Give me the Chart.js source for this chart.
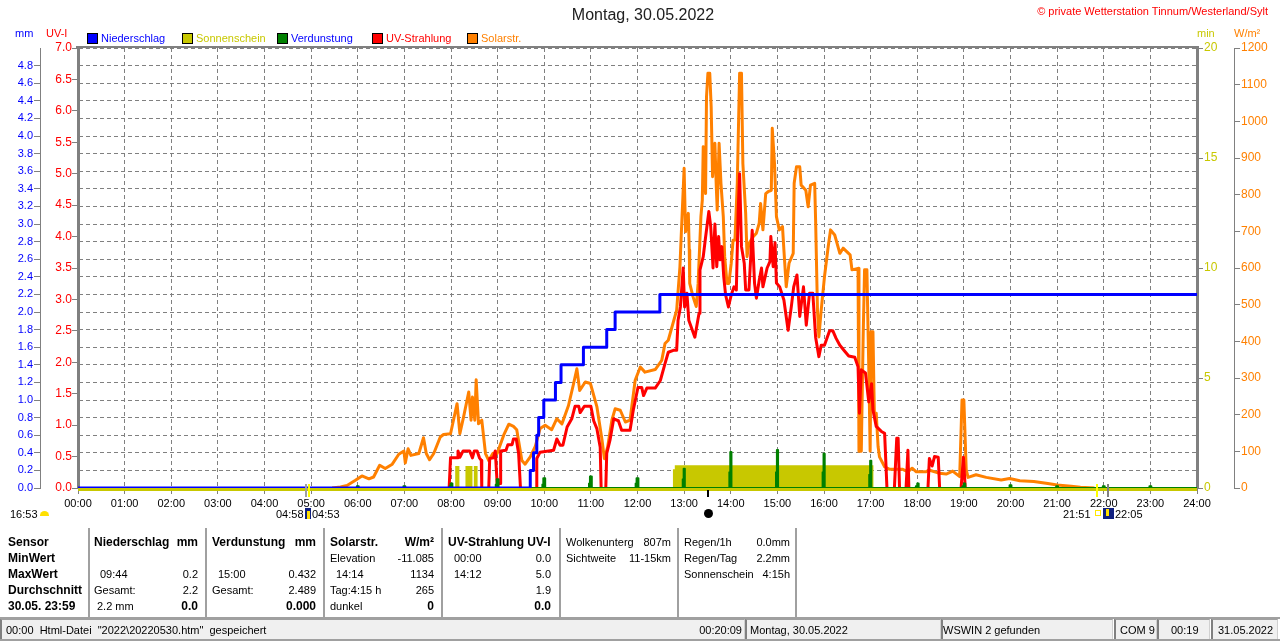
<!DOCTYPE html>
<html><head><meta charset="utf-8">
<script src="https://cdn.jsdelivr.net/npm/chart.js@4"></script>
<style>
html,body{margin:0;padding:0;background:#fff;width:1280px;height:641px;overflow:hidden}
canvas{position:absolute;left:0;top:0}
.t{position:absolute;font:11px/14px "Liberation Sans",Arial,sans-serif;color:#000;white-space:pre}
.b{font-weight:bold;font-size:12px}
.sep{position:absolute;width:2px;top:528px;height:89px;background:#a0a0a0}
.st{position:absolute;top:619px;height:20px;background:#f0f0f0;border-left:2px solid #808080;border-right:1px solid #d0d0d0;border-top:1px solid #a0a0a0;box-sizing:border-box}
.m{position:absolute}
.lg{position:absolute;width:9px;height:9px;border:1px solid #000;top:33px}
</style></head><body>
<canvas id="c" width="1280" height="641"></canvas>
<div id="legend"></div>

<div class="t" style="left:0;width:1286px;text-align:center;top:6px;font-size:16px;line-height:18px;color:#202020">Montag, 30.05.2022</div>
<div class="t" style="right:12px;top:4px;color:#f00">© private Wetterstation Tinnum/Westerland/Sylt</div>
<div class="t" style="left:15px;top:26px;color:#00f">mm</div>
<div class="t" style="left:46px;top:26px;color:#f00">UV-I</div>
<div class="t" style="left:1197px;top:26px;color:#c8c800">min</div>
<div class="t" style="left:1234px;top:26px;color:#ff8000">W/m²</div>

<div class="t" style="left:10px;top:507px">16:53</div>
<div class="m" style="left:40px;top:511px;width:9px;height:5px;background:#ffe000;border-radius:5px 5px 0 0"></div>
<div class="t" style="left:276px;top:507px">04:58</div>
<div class="m" style="left:305px;top:508px;width:6px;height:11px;background:#102080"></div>
<div class="m" style="left:307px;top:511px;width:3px;height:8px;background:#ffe000"></div>
<div class="t" style="left:312px;top:507px">04:53</div>
<div class="m" style="left:305px;top:484px;width:2px;height:13px;background:#a0a0a0"></div>
<div class="m" style="left:308px;top:484px;width:2px;height:13px;background:#ffff00"></div>
<div class="t" style="left:1063px;top:507px">21:51</div>
<div class="m" style="left:1095px;top:510px;width:4px;height:4px;border:1px solid #ffe800"></div>
<div class="m" style="left:1103px;top:508px;width:11px;height:11px;background:#102080"></div>
<div class="m" style="left:1106px;top:509px;width:3px;height:7px;background:#ffe000"></div>
<div class="t" style="left:1115px;top:507px">22:05</div>
<div class="m" style="left:1096px;top:484px;width:2px;height:13px;background:#ffff00"></div>
<div class="m" style="left:1107px;top:484px;width:2px;height:13px;background:#808080"></div>
<div class="m" style="left:707px;top:490px;width:2px;height:7px;background:#000"></div>
<div class="m" style="left:704px;top:509px;width:9px;height:9px;background:#000;border-radius:50%"></div>

<div class="sep" style="left:88px"></div><div class="sep" style="left:205px"></div><div class="sep" style="left:323px"></div><div class="sep" style="left:441px"></div><div class="sep" style="left:559px"></div><div class="sep" style="left:677px"></div><div class="sep" style="left:795px"></div>

<div class="t b" style="left:8px;top:535px">Sensor</div>
<div class="t b" style="left:8px;top:551px">MinWert</div>
<div class="t b" style="left:8px;top:567px">MaxWert</div>
<div class="t b" style="left:8px;top:583px">Durchschnitt</div>
<div class="t b" style="left:8px;top:599px">30.05. 23:59</div>

<div class="t b" style="left:94px;top:535px">Niederschlag</div>
<div class="t b" style="right:1082px;top:535px">mm</div>
<div class="t" style="left:100px;top:567px">09:44</div>
<div class="t" style="right:1082px;top:567px">0.2</div>
<div class="t" style="left:94px;top:583px">Gesamt:</div>
<div class="t" style="right:1082px;top:583px">2.2</div>
<div class="t" style="left:97px;top:599px">2.2 mm</div>
<div class="t b" style="right:1082px;top:599px">0.0</div>

<div class="t b" style="left:212px;top:535px">Verdunstung</div>
<div class="t b" style="right:964px;top:535px">mm</div>
<div class="t" style="left:218px;top:567px">15:00</div>
<div class="t" style="right:964px;top:567px">0.432</div>
<div class="t" style="left:212px;top:583px">Gesamt:</div>
<div class="t" style="right:964px;top:583px">2.489</div>
<div class="t b" style="right:964px;top:599px">0.000</div>

<div class="t b" style="left:330px;top:535px">Solarstr.</div>
<div class="t b" style="right:846px;top:535px">W/m²</div>
<div class="t" style="left:330px;top:551px">Elevation</div>
<div class="t" style="right:846px;top:551px">-11.085</div>
<div class="t" style="left:336px;top:567px">14:14</div>
<div class="t" style="right:846px;top:567px">1134</div>
<div class="t" style="left:330px;top:583px">Tag:4:15 h</div>
<div class="t" style="right:846px;top:583px">265</div>
<div class="t" style="left:330px;top:599px">dunkel</div>
<div class="t b" style="right:846px;top:599px">0</div>

<div class="t b" style="left:448px;top:535px">UV-Strahlung UV-I</div>
<div class="t" style="left:454px;top:551px">00:00</div>
<div class="t" style="right:729px;top:551px">0.0</div>
<div class="t" style="left:454px;top:567px">14:12</div>
<div class="t" style="right:729px;top:567px">5.0</div>
<div class="t" style="right:729px;top:583px">1.9</div>
<div class="t b" style="right:729px;top:599px">0.0</div>

<div class="t" style="left:566px;top:535px">Wolkenunterg</div>
<div class="t" style="right:609px;top:535px">807m</div>
<div class="t" style="left:566px;top:551px">Sichtweite</div>
<div class="t" style="right:609px;top:551px">11-15km</div>

<div class="t" style="left:684px;top:535px">Regen/1h</div>
<div class="t" style="right:490px;top:535px">0.0mm</div>
<div class="t" style="left:684px;top:551px">Regen/Tag</div>
<div class="t" style="right:490px;top:551px">2.2mm</div>
<div class="t" style="left:684px;top:567px">Sonnenschein</div>
<div class="t" style="right:490px;top:567px">4:15h</div>

<div class="m" style="left:0;top:617px;width:1280px;height:2px;background:#a0a0a0"></div>
<div class="st" style="left:0;width:745px"></div>
<div class="st" style="left:745px;width:196px"></div>
<div class="st" style="left:941px;width:172px"></div>
<div class="st" style="left:1114px;width:43px"></div>
<div class="st" style="left:1157px;width:53px"></div>
<div class="st" style="left:1211px;width:67px"></div>
<div class="m" style="left:0;top:639px;width:1280px;height:2px;background:#a0a0a0"></div>
<div class="t" style="left:6px;top:623px">00:00  Html-Datei  "2022\20220530.htm"  gespeichert</div>
<div class="t" style="right:538px;top:623px">00:20:09</div>
<div class="t" style="left:750px;top:623px">Montag, 30.05.2022</div>
<div class="t" style="left:943px;top:623px">WSWIN 2 gefunden</div>
<div class="t" style="left:1120px;top:623px">COM 9</div>
<div class="t" style="left:1171px;top:623px">00:19</div>
<div class="t" style="left:1218px;top:623px">31.05.2022</div>

<script>
// ---- Data (time in decimal hours) ----
const rainTimes = [0, 9.70, 9.77, 9.84, 9.88, 9.99, 10.24, 10.36, 10.84, 11.34, 11.52, 12.48, 24];
const rainMm    = [0, 0.2, 0.4, 0.6, 0.8, 1.0, 1.2, 1.4, 1.6, 1.8, 2.0, 2.2, 2.2];

const sunTimes = [0, 8.09, 8.18, 8.31, 8.46, 8.49, 8.57, 12.76, 12.80, 17.06, 24];
const sunMin   = [0, 1, 0, 1, 0, 1, 0, 0.85, 1.03, 0, 0];

const evapTimes = [0, 5.98,6.02, 6.98,7.02, 7.97,7.99,8.03, 8.96,8.98,9.02, 9.96,9.98,10.02, 10.96,10.98,11.02, 11.96,11.98,12.02, 12.97,12.99,13.015, 13.97,13.99,14.015, 14.97,14.99,15.015, 15.97,15.99,16.015, 16.97,16.99,17.015, 17.97,18.0,18.03, 18.97,19.0,19.03, 19.98,20.02, 20.98,21.02, 21.98,22.02, 22.98,23.02, 24];
const evapMm    = [0, 0.02,0, 0.02,0, 0.02,0.05,0, 0.04,0.10,0, 0.04,0.11,0, 0.05,0.13,0, 0.05,0.11,0, 0.10,0.22,0, 0.18,0.41,0, 0.18,0.432,0, 0.18,0.39,0, 0.15,0.31,0, 0.02,0.05,0, 0.02,0.05,0, 0.03,0, 0.02,0, 0.02,0, 0.02,0, 0];

const uvTimes = [7.96,7.99,8.13,8.15,8.19,8.26,8.4,8.46,8.5,8.56,8.61,8.65,8.66,8.81,8.83,8.91,8.95,8.99,9.06,9.065,9.18,9.22,9.31,9.34,9.4,9.45,9.49,9.83,9.84,9.91,10.2,10.27,10.34,10.4,10.49,10.59,10.66,10.74,10.77,10.86,11,11.06,11.13,11.2,11.22,11.32,11.34,11.41,11.49,11.59,11.66,11.84,11.91,12.01,12.09,12.13,12.2,12.38,12.49,12.59,12.66,12.77,12.84,12.87,12.92,12.98,13.01,13.06,13.1,13.23,13.32,13.34,13.41,13.46,13.53,13.57,13.62,13.66,13.7,13.74,13.77,13.81,13.85,13.89,13.95,14.01,14.07,14.12,14.16,14.19,14.23,14.29,14.32,14.39,14.46,14.51,14.55,14.61,14.66,14.69,14.78,14.84,14.86,14.91,14.95,14.98,15.05,15.14,15.23,15.3,15.35,15.42,15.48,15.56,15.62,15.69,15.76,15.82,15.89,15.94,16.01,16.12,16.19,16.26,16.34,16.44,16.53,16.66,16.73,16.76,16.8,16.89,16.96,17.02,17.05,17.12,17.23,17.3,17.35,17.51,17.56,17.59,17.62,17.76,17.8,17.82,18.23,18.26,18.32,18.37,18.45,18.48,18.94,18.99,19.03];
const uvIndex = [0,0.48,0.48,0.59,0.49,0.59,0.59,0.48,0.59,0.59,0.48,0.44,0,0,0.47,0.48,0.59,0.07,0.07,0.59,0.6,0.69,0.69,0.78,0.78,0.55,0,0,0.47,0.57,0.6,0.78,0.68,0.68,0.97,1.1,1.3,1.3,1.2,1.3,1.3,1.07,0.94,0.65,0,0,0.55,0.76,1.1,1.07,0.92,0.92,1.24,1.6,1.6,1.47,1.59,1.59,1.71,1.98,2.16,2.19,2.19,2.67,2.88,3.5,2.88,3.1,2.67,2.4,2.78,3.47,3.68,3.99,4.4,4.16,3.5,4.2,3.52,4.0,3.63,3.84,3.36,3.07,2.88,3.07,3.2,3.15,4.42,5.0,3.84,3.57,3.15,3.15,4.1,3.26,3.02,3.3,3.5,3.2,3.5,3.6,4.0,3.52,3.9,3.26,3.2,2.99,2.51,2.89,3.2,3.39,2.73,3.2,2.59,3.1,3.1,2.4,2.09,2.27,2.27,2.5,2.5,2.38,2.27,2.18,2.1,2.08,1.93,1.19,1.88,1.83,1.37,1.66,1.24,0.98,0.9,0.87,0,0,0.79,0.79,0,0,0.6,0,0,0.47,0.35,0.5,0.49,0,0,0.49,0];

const solarTimes = [5.45,5.63,5.77,5.95,6.09,6.24,6.34,6.47,6.59,6.74,6.88,6.99,7.02,7.08,7.14,7.31,7.41,7.47,7.54,7.63,7.77,7.84,7.99,8.06,8.13,8.19,8.27,8.38,8.43,8.46,8.51,8.54,8.59,8.66,8.74,8.81,8.9,8.99,9.13,9.24,9.34,9.41,9.52,9.59,9.7,9.81,9.91,10.02,10.16,10.27,10.38,10.52,10.63,10.7,10.76,10.88,10.99,11.13,11.24,11.29,11.36,11.45,11.52,11.63,11.74,11.84,11.95,12.06,12.16,12.38,12.52,12.59,12.66,12.84,12.91,12.94,13,13.03,13.09,13.11,13.12,13.19,13.26,13.3,13.36,13.39,13.41,13.46,13.48,13.51,13.55,13.58,13.61,13.66,13.69,13.71,13.75,13.79,13.84,13.87,13.92,13.96,14.01,14.05,14.09,14.14,14.19,14.23,14.26,14.32,14.35,14.39,14.48,14.55,14.61,14.64,14.69,14.75,14.8,14.87,14.89,14.94,14.98,15.04,15.11,15.14,15.19,15.25,15.34,15.36,15.41,15.48,15.51,15.61,15.66,15.71,15.8,15.82,15.86,15.89,15.94,16.01,16.09,16.14,16.23,16.34,16.41,16.56,16.6,16.73,16.75,16.8,16.84,16.87,16.92,16.96,16.99,17.01,17.05,17.08,17.12,17.16,17.19,17.3,17.41,17.69,17.8,17.89,17.98,18.19,18.25,18.48,18.62,18.76,18.91,18.96,19,19.05,19.09,19.26,19.48,19.8,19.98,20.2,20.5,20.8,21,21.3,21.5,21.8];
const solarWm2 = [0,3,7,21,33,25,30,62,53,65,92,101,68,107,89,94,137,94,77,94,139,146,148,189,230,148,194,262,185,248,185,295,175,185,94,75,95,94,144,174,168,159,75,65,85,114,162,171,159,189,175,225,285,325,266,289,285,221,130,80,112,185,216,212,180,185,294,330,316,323,348,394,403,485,603,695,872,699,749,649,558,522,495,558,740,785,931,803,1067,1131,1131,1040,849,940,821,758,940,831,740,631,558,558,613,676,676,831,1131,1131,885,749,631,667,685,695,722,776,704,803,808,812,981,881,740,704,713,649,549,613,640,831,876,876,826,812,767,826,831,731,485,412,485,576,658,704,690,640,654,636,595,599,100,100,413,595,595,331,100,426,426,204,204,113,85,58,51,51,44,54,44,44,49,40,38,46,31,240,240,50,29,36,29,22,26,20,18,12,8,5,2,0];

// Tick settings per axis
const hourTicks = Array.from({length: 25}, (_, i) => i);
const seriesNames = ['Niederschlag', 'Sonnenschein', 'Verdunstung', 'UV-Strahlung', 'Solarstr.'];
const seriesColors = ['#0000ff', '#c8c800', '#008000', '#ff0000', '#ff8000'];
const legendTextColors = ['#0000ff', '#c8c800', '#0000ff', '#ff0000', '#ff8000'];

const pairs = (xs, ys) => xs.map((x, i) => ({x, y: ys[i]}));
const FONT = {family: '"Liberation Sans",Arial,sans-serif', size: 11};
const GRAY = '#808080';
const DASH = [4, 3];
const noClip = {left: 0, right: 0, top: 0, bottom: 0};

function fixedWidth(w){ return s => { s.width = w; }; }

const framePlugin = {
  id: 'frame',
  beforeDatasetsDraw(chart){
    const a = chart.chartArea, c = chart.ctx;
    c.save();
    c.fillStyle = GRAY;
    c.fillRect(a.left - 2, a.top - 2, a.right - a.left + 4, 2);
    c.fillStyle = seriesColors[1];
    c.fillRect(a.left, a.bottom, a.right - a.left, 3);
    c.restore();
  }
};

const chart = new Chart(document.getElementById('c'), {
  type: 'line',
  plugins: [framePlugin],
  data: { datasets: [
    {label: seriesNames[0], data: pairs(rainTimes, rainMm), yAxisID: 'mm', borderColor: seriesColors[0], backgroundColor: seriesColors[0], borderWidth: 3, stepped: true, order: 0, clip: noClip},
    {label: seriesNames[1], data: pairs(sunTimes, sunMin), yAxisID: 'min', borderColor: seriesColors[1], backgroundColor: seriesColors[1], borderWidth: 0, stepped: true, fill: 'origin', order: 4, clip: noClip},
    {label: seriesNames[2], data: pairs(evapTimes, evapMm), yAxisID: 'mm', borderColor: seriesColors[2], backgroundColor: seriesColors[2], borderWidth: 2, stepped: true, fill: 'origin', order: 1, clip: noClip},
    {label: seriesNames[3], data: pairs(uvTimes, uvIndex), yAxisID: 'uv', borderColor: seriesColors[3], backgroundColor: seriesColors[3], borderWidth: 3, order: 2, clip: noClip,
      segment: {borderColor: c => (c.p0.parsed.y === 0 && c.p1.parsed.y === 0) ? 'transparent' : undefined}},
    {label: seriesNames[4], data: pairs(solarTimes, solarWm2), yAxisID: 'wm2', borderColor: seriesColors[4], backgroundColor: seriesColors[4], borderWidth: 3, order: 3, clip: noClip}
  ]},
  options: {
    responsive: false, animation: false, devicePixelRatio: 1,
    events: [],
    layout: {padding: {top: 48, left: 0, right: 0, bottom: 123}},
    elements: {point: {radius: 0}, line: {tension: 0, borderJoinStyle: 'round', borderCapStyle: 'butt'}},
    plugins: {legend: {display: false}, title: {display: false}, tooltip: {enabled: false}},
    scales: {
      x: {
        type: 'linear', min: 0, max: 24, position: 'bottom',
        afterBuildTicks: s => { s.ticks = hourTicks.map(v => ({value: v})); },
        afterFit: s => { s.height = 30; },
        border: {display: false, dash: DASH},
        grid: {color: GRAY, tickColor: GRAY, tickLength: 6, lineWidth: 1, tickBorderDash: []},
        ticks: {color: '#000', font: FONT, maxRotation: 0, autoSkip: false, padding: 3, callback: v => String(v).padStart(2, '0') + ':00'}
      },
      mm: {
        type: 'linear', position: 'left', weight: 2, min: 0, max: 5,
        afterFit: fixedWidth(40),
        border: {color: GRAY, width: 1, dash: DASH},
        grid: {color: GRAY, tickColor: c => (c.tick && c.tick.value >= 4.99) ? 'transparent' : GRAY, tickLength: 6, tickBorderDash: []},
        ticks: {color: '#0000ff', font: FONT, stepSize: 0.2, padding: 1, callback: v => v >= 4.99 ? '' : v.toFixed(1)}
      },
      uv: {
        type: 'linear', position: 'left', weight: 1, min: 0, max: 7,
        afterFit: fixedWidth(38),
        border: {color: GRAY, width: 3},
        grid: {drawOnChartArea: false, color: GRAY, tickLength: 6},
        ticks: {color: '#ff0000', font: {family: FONT.family, size: 12}, stepSize: 0.5, padding: 0, callback: v => v.toFixed(1)}
      },
      min: {
        type: 'linear', position: 'right', weight: 1, min: 0, max: 20,
        afterFit: fixedWidth(37),
        border: {color: GRAY, width: 3},
        grid: {drawOnChartArea: false, color: GRAY, tickLength: 6},
        ticks: {color: '#c8c800', font: {family: FONT.family, size: 12}, stepSize: 5, padding: 1, callback: v => String(v)}
      },
      wm2: {
        type: 'linear', position: 'right', weight: 2, min: 0, max: 1200,
        afterFit: fixedWidth(46),
        border: {color: GRAY, width: 1},
        grid: {drawOnChartArea: false, color: GRAY, tickLength: 6},
        ticks: {color: '#ff8000', font: {family: FONT.family, size: 12}, stepSize: 100, padding: 1, callback: v => String(v)}
      }
    }
  }
});

// Legend is built from the chart's own datasets
const legendLefts = [87, 182, 277, 372, 467];
const lg = document.getElementById('legend');
chart.data.datasets.forEach((d, i) => {
  const sw = document.createElement('div');
  sw.className = 'lg'; sw.style.left = legendLefts[i] + 'px'; sw.style.background = d.borderColor;
  lg.appendChild(sw);
  const tx = document.createElement('div');
  tx.className = 't'; tx.style.left = (legendLefts[i] + 14) + 'px'; tx.style.top = '31px';
  tx.style.color = legendTextColors[i]; tx.textContent = d.label;
  lg.appendChild(tx);
});
</script>
</body></html>
